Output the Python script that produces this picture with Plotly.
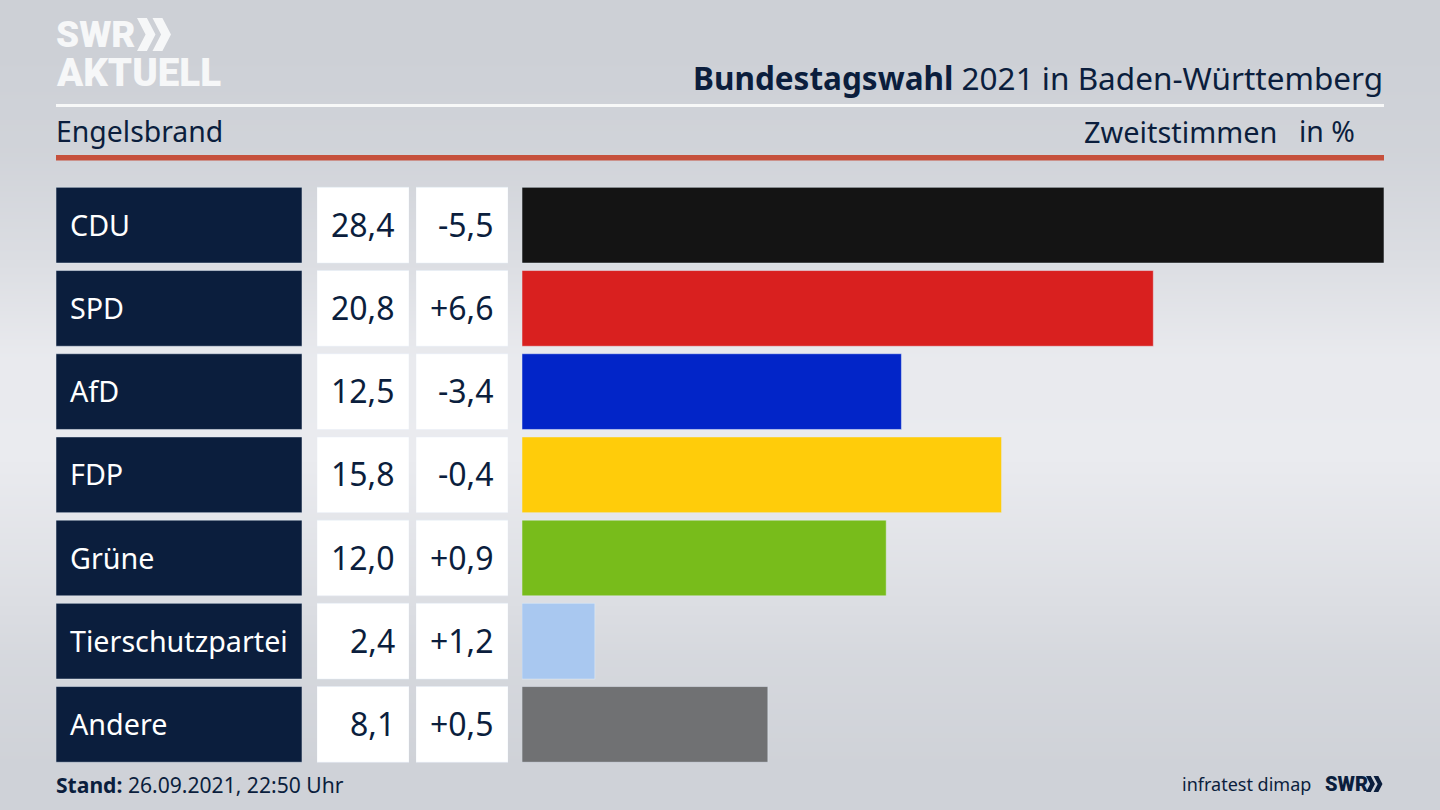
import plotly.graph_objects as go

W, H = 1440, 810
FONT = "Noto Sans"
LOGO_FONT = "Roboto"
NAVY = "#0b1e3d"

parties = ["CDU", "SPD", "AfD", "FDP", "Grüne", "Tierschutzpartei", "Andere"]
shares = [28.4, 20.8, 12.5, 15.8, 12.0, 2.4, 8.1]
changes = ["-5,5", "+6,6", "-3,4", "-0,4", "+0,9", "+1,2", "+0,5"]
share_labels = ["28,4", "20,8", "12,5", "15,8", "12,0", "2,4", "8,1"]
bar_colors = ["#141414", "#d9201f", "#0225c8", "#ffcc0a", "#78bc1b", "#a9c8f0", "#707173"]

# background tone from top to bottom of the page
bg_levels = [0.0, 0.12, 0.45, 0.9, 0.95, 0.65, 0.28, 0.08]


def px(x):
    return x / W


def py(y):
    return 1 - y / H


def domain_x(left, right):
    return [px(left), px(right)]


fig = go.Figure()

fig.add_trace(go.Heatmap(z=[[v] for v in bg_levels], zsmooth="best", showscale=False, hoverinfo="skip",
                         colorscale=[[0, "#cdd0d6"], [1, "#eaebef"]]))

# name column, share column, change column, then the real bars
fig.add_trace(go.Bar(x=[1] * 7, y=parties, orientation="h", marker_color=NAVY, xaxis="x2", yaxis="y2"))
fig.add_trace(go.Bar(x=[1] * 7, y=parties, orientation="h", marker_color="white", xaxis="x3", yaxis="y2"))
fig.add_trace(go.Bar(x=[1] * 7, y=parties, orientation="h", marker_color="white", xaxis="x4", yaxis="y2"))
fig.add_trace(go.Bar(x=shares, y=parties, orientation="h", marker_color=bar_colors, xaxis="x5", yaxis="y2"))

hidden = dict(visible=False, fixedrange=True)
fig.update_layout(
    width=W, height=H, margin=dict(l=0, r=0, t=0, b=0), showlegend=False, bargap=0.09,
    paper_bgcolor="#dcdee3", plot_bgcolor="rgba(0,0,0,0)",
    font=dict(family=FONT, color=NAVY),
    xaxis=dict(domain=[0, 1], **hidden),
    yaxis=dict(domain=[0, 1], autorange="reversed", **hidden),
    xaxis2=dict(domain=domain_x(56, 302), range=[0, 1], anchor="y2", **hidden),
    xaxis3=dict(domain=domain_x(317, 409), range=[0, 1], anchor="y2", **hidden),
    xaxis4=dict(domain=domain_x(416, 508), range=[0, 1], anchor="y2", **hidden),
    xaxis5=dict(domain=domain_x(522, 1384), range=[0, 28.4], anchor="y2", **hidden),
    yaxis2=dict(domain=[py(766), py(183.6)], autorange="reversed", anchor="x2", **hidden),
)

for i, party in enumerate(parties):
    fig.add_annotation(text=party, x=0, y=party, xref="x2 domain", yref="y2", xanchor="left", xshift=12, yshift=1,
                       showarrow=False, font=dict(size=28.7, color="white"))
    fig.add_annotation(text=share_labels[i], x=1, y=party, xref="x3 domain", yref="y2", xanchor="right", xshift=-12.5,
                       yshift=1, showarrow=False, font=dict(size=32))
    fig.add_annotation(text=changes[i], x=1, y=party, xref="x4 domain", yref="y2", xanchor="right", xshift=-12,
                       yshift=1, showarrow=False, font=dict(size=32))


def label(text, x, y, size, anchor="left", color=NAVY, family=FONT, weight=None):
    fig.add_annotation(text=text, x=px(x), y=py(y), xref="paper", yref="paper", xanchor=anchor, yanchor="middle",
                       showarrow=False, font=dict(size=size, color=color, family=family, weight=weight))


label("<b>Bundestagswahl</b> 2021 in Baden-Württemberg", 1385, 77, 31.5, "right")
label("Engelsbrand", 54, 131, 28.4)
label("Zweitstimmen", 1279, 131, 28.9, "right")
label("in %", 1357, 131, 28.4, "right")
label("<b>Stand:</b> 26.09.2021, 22:50 Uhr", 54, 784, 21.1)
label("infratest dimap", 1313, 784, 18, "right")
label("SWR", 1323, 784, 20, family=LOGO_FONT, weight=900)
label("SWR", 54, 35, 37, color="#f6f7f8", family=LOGO_FONT, weight=900)
label("AKTUELL", 54, 72, 38.5, color="#f6f7f8", family=LOGO_FONT, weight=900)


def chevrons(x0, y0, h, color):
    # double chevron of the logo, x0/y0 = top left corner, h = height
    w = h * 0.52
    gap = h * 0.47
    for k in range(2):
        a = x0 + k * gap
        path = "M {} {} L {} {} L {} {} L {} {} L {} {} L {} {} Z".format(
            px(a), py(y0), px(a + h * 0.3), py(y0), px(a + w + h * 0.04), py(y0 + h / 2),
            px(a + h * 0.3), py(y0 + h), px(a), py(y0 + h), px(a + w - h * 0.26), py(y0 + h / 2))
        fig.add_shape(type="path", path=path, xref="paper", yref="paper", fillcolor=color, line_width=0)


chevrons(137, 18, 33, "#f6f7f8")
chevrons(1366, 776, 16, NAVY)

fig.add_shape(type="rect", x0=px(56), x1=px(1384), y0=py(107), y1=py(104), xref="paper", yref="paper",
              fillcolor="#f7f8f8", line_width=0)
fig.add_shape(type="rect", x0=px(56), x1=px(1384), y0=py(160.5), y1=py(155), xref="paper", yref="paper",
              fillcolor="#c6503c", line_width=0)

fig.write_html("out.html", post_script="document.body.style.margin='0';", config=dict(displayModeBar=False))
